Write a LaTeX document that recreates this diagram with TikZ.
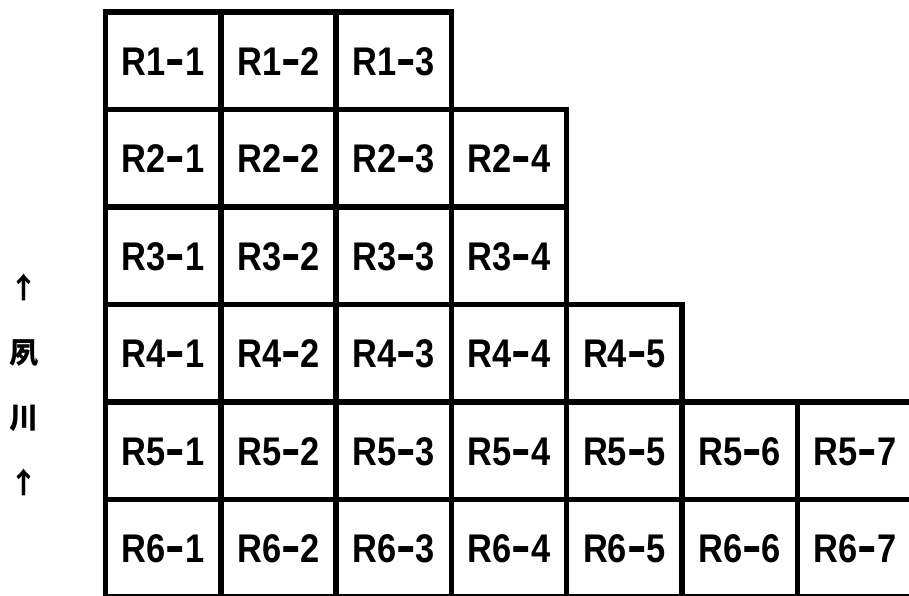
\documentclass[tikz,border=0pt]{standalone}
\usepackage{fontspec}
\usepackage{graphicx}
\setmainfont{Liberation Sans}
\newfontfamily\cjk{Noto Sans CJK JP}
\usetikzlibrary{positioning}
\definecolor{fdInk}{HTML}{000000}
\definecolor{fdWhite}{HTML}{FFFFFF}
\newcommand{\fddash}{\scalebox{1.7}[1.25]{-}}
\newcommand{\fdlabel}[2]{\scalebox{0.86}[1]{R#1\fddash#2}}
\tikzset{
  fd-cell/.style={
    draw=fdInk, line width=5.5pt, fill=fdWhite,
    minimum width=115.3pt, minimum height=97.5pt, inner sep=0pt,
    font=\fontsize{40}{40}\selectfont\bfseries, text=fdInk,
    text height=28.6pt, text depth=0pt
  },
  fd-river/.style={font=\cjk\bfseries\fontsize{29}{65}\selectfont,
    align=center, inner sep=0pt, text=fdInk}
}
\begin{document}
\begin{tikzpicture}[x=1pt, y=-1pt]
\useasboundingbox[fill=fdWhite] (0,0) rectangle (909,596);
% Cells
\foreach \r/\n in {1/3,2/4,3/4,4/5,5/7,6/7}
  \foreach \c in {1,...,\n}
    \node[fd-cell] (r\r c\c) at ({105.5+115.3*(\c-0.5)}, {12+97.5*(\r-0.5)})
      {\fdlabel{\r}{\c}};

% River label
\node[fd-river] (river) at (24, 384.5) {↑\\夙\\川\\↑};
\end{tikzpicture}
\end{document}
